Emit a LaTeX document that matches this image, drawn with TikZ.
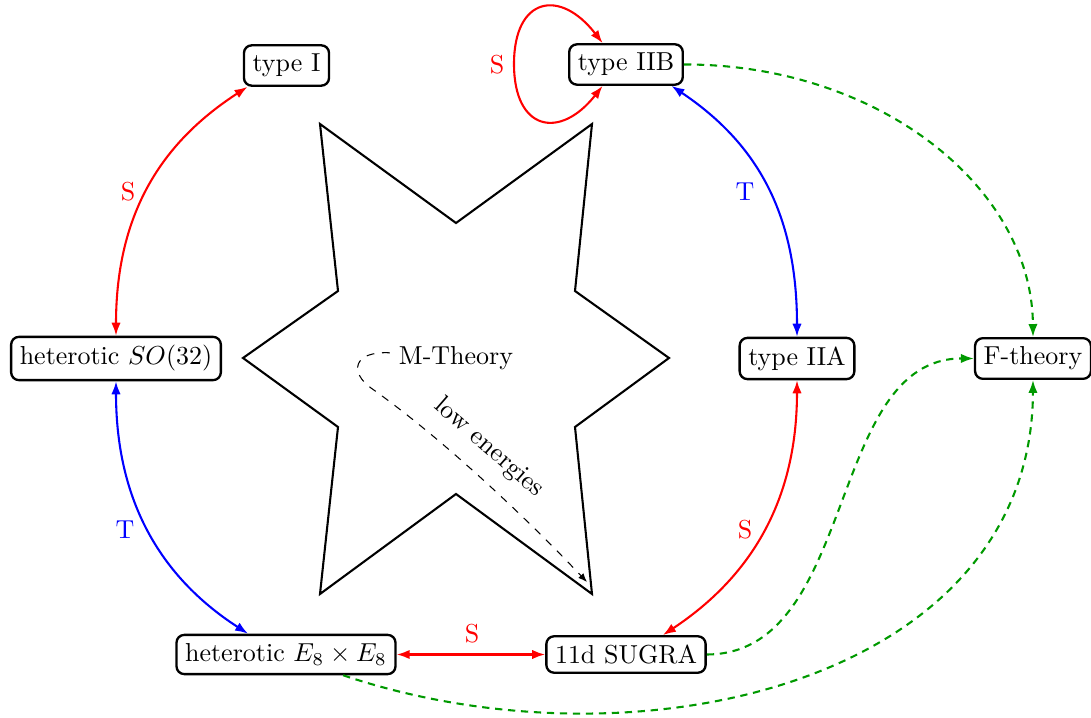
\documentclass[tikz,border=0pt]{standalone}
\usetikzlibrary{arrows.meta}
\begin{document}
\begin{tikzpicture}[x=0.385pt,y=-0.385pt,
  box/.style={draw,line width=0.9pt,rounded corners=3pt,inner sep=3.33pt},
  dual/.style={thick,{Latex[length=5pt,width=3.6pt]}-{Latex[length=5pt,width=3.6pt]}},
  fdash/.style={thick,dash pattern=on 2.8pt off 2.2pt,draw=green!60!black,-{Latex[length=5pt,width=3.6pt]}},
  lbl/.style={inner sep=1pt}]
\useasboundingbox (0,0) rectangle (1091,718);
% nodes
\node[box] (t1) at (286.5,65.5) {type I};
\node[box] (t2b) at (626,64.5) {type IIB};
\node[box] (so) at (116,358.5) {heterotic $SO(32)$};
\node[box] (t2a) at (797,358.5) {type IIA};
\node[box] (F) at (1033,358.5) {F-theory};
\node[box] (e8) at (286,654.5) {heterotic $E_8\times E_8$};
\node[box] (sg) at (626,654.5) {11d SUGRA};
\node (M) at (456,358) {M-Theory};
% star
\draw[thick] (320,124) -- (456,223) -- (592,124) -- (575,291) -- (669,358) -- (575,427)
  -- (592,594) -- (456,494) -- (320,594) -- (338,427) -- (243,358) -- (338,291) -- cycle;
% low energies
\draw[thin,dashed,-{Latex[length=3.4pt,width=2.7pt]}] ([yshift=2pt]M.west) .. controls (352,351) and (350,373) .. (371,388)
  .. controls (446,441) and (530,522) .. (587,582);
\node[rotate=-41] (low) at (489,448) {low energies};
% red / blue dualities
\draw[dual,red] (so.north) .. controls (116,209) and (165.6,139.9) .. ([xshift=-15pt]t1.south);
\draw[dual,blue] (t2a.north) .. controls (797,209) and (753.4,140.9) .. ([xshift=17.5pt]t2b.south);
\draw[dual,blue] (so.south) .. controls (116,508) and (166.6,581.1) .. ([xshift=-14.6pt]e8.north);
\draw[dual,red] (t2a.south) .. controls (797,508) and (744.4,581.1) .. ([xshift=14.2pt]sg.north);
\draw[dual,red] (e8.east) -- (sg.west);
\draw[dual,red] ([xshift=-9pt]t2b.north) .. controls (560,-12) and (514,-3) .. (514,64)
  .. controls (514,131) and (560,140) .. ([xshift=-9pt]t2b.south);
% labels
\node[lbl,red] (s1) at (128,192) {S};
\node[lbl,blue] (tt1) at (745,192) {T};
\node[lbl,blue] (tt2) at (125,530) {T};
\node[lbl,red] (s2) at (745,530) {S};
\node[lbl,red] (s3) at (472,634) {S};
\node[lbl,red] (s4) at (497,65) {S};
% F-theory
\draw[fdash] (t2b.east) .. controls (877,64) and (1032,186) .. (F.north);
\draw[fdash] (sg.east) .. controls (858,654) and (826,358) .. (F.west);
\draw[fdash] ([xshift=22pt]e8.south) .. controls (640,775) and (1032,680) .. (F.south);
\end{tikzpicture}
\end{document}
